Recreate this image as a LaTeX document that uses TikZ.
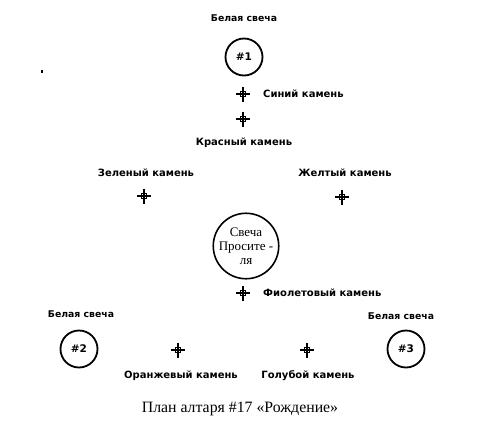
\documentclass[tikz,border=0pt]{standalone}
\usepackage{fontspec}
\setmainfont{Liberation Serif}
\newfontfamily\lblfont{DejaVu Sans}
\begin{document}
\begin{tikzpicture}[x=1pt,y=-1pt,
  lbl/.style={font=\lblfont\bfseries\fontsize{10}{11}\selectfont, inner sep=0pt, anchor=center},
  wlbl/.style={font=\lblfont\bfseries\fontsize{9.3}{10}\selectfont, inner sep=0pt, anchor=center},
  candle/.style={draw, line width=1.8pt, circle, minimum size=37pt, inner sep=0pt, font=\lblfont\bfseries\fontsize{10.5}{11}\selectfont},
  stone/.pic={
    \draw[line width=1.6pt] (-2.6,-2.6) rectangle (2.6,2.6);
    \draw[line width=1.3pt] (-7,0) -- (7,0) (0,-7.5) -- (0,7.5);
  }]
\useasboundingbox[fill=white] (0,0) rectangle (480,421);
% top
\node[wlbl] (t1) at (244,18) {Белая свеча};
\node[candle] (c1) at (244,57) {\#1};
\pic at (243,94) {stone};
\coordinate (s1) at (243,94);
\node[lbl, anchor=west] (l1) at (263,94) {Синий камень};
\pic at (243,119) {stone};
\coordinate (s2) at (243,119);
\node[lbl] (l2) at (244,143) {Красный камень};
% middle
\node[lbl] (l3) at (146,173) {Зеленый камень};
\node[lbl] (l4) at (345,173) {Желтый камень};
\pic at (144,196) {stone};
\pic at (342,197) {stone};
\node[draw, circle, line width=1.6pt, minimum size=60pt, inner sep=0pt, align=center,
  font=\fontsize{13}{14}\selectfont] (c0) at (246,246) {Свеча\\Просите -\\ля};
\pic at (243,293) {stone};
\node[lbl, anchor=west] (l5) at (263,293) {Фиолетовый камень};
% bottom
\node[wlbl] (t2) at (81,314) {Белая свеча};
\node[wlbl] (t3) at (401,316) {Белая свеча};
\node[candle] (c2) at (79,349) {\#2};
\node[candle] (c3) at (406,349) {\#3};
\pic at (178,350) {stone};
\pic at (307,350) {stone};
\node[lbl] (l6) at (181,376) {Оранжевый камень};
\node[lbl] (l7) at (308,376) {Голубой камень};
% caption
\node[font=\fontsize{15.8}{18}\selectfont, inner sep=0pt] (cap) at (240,409) {План алтаря \#17 «Рождение»};
% speck
\fill (41,70) rectangle (43,73);
\end{tikzpicture}
\end{document}
